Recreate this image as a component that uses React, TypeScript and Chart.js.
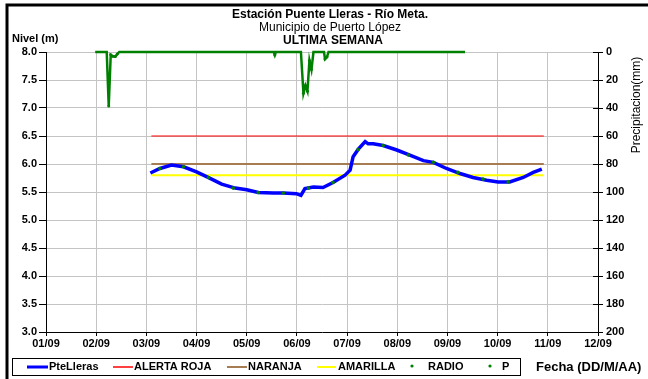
import React, { useEffect, useRef } from "react";
import { Chart, registerables } from "chart.js";

Chart.register(...registerables);

// ---------- DATA ----------
const xTickLabels = ["01/09", "02/09", "03/09", "04/09", "05/09", "06/09", "07/09", "08/09", "09/09", "10/09", "11/09", "12/09"];

// days since 01/09 00:00
const levelDays = [2.08, 2.27, 2.5, 2.74, 3.0, 3.23, 3.5, 3.77, 4.0, 4.23, 4.53, 4.73, 4.99, 5.08, 5.16, 5.33, 5.52, 5.72, 5.96, 6.06, 6.12, 6.22, 6.36, 6.42, 6.52, 6.72, 6.99, 7.25, 7.52, 7.72, 7.98, 8.25, 8.51, 8.78, 9.01, 9.24, 9.51, 9.71, 9.88];
const levelValues = [5.84, 5.92, 5.98, 5.95, 5.86, 5.76, 5.64, 5.57, 5.54, 5.49, 5.48, 5.48, 5.47, 5.44, 5.56, 5.59, 5.58, 5.67, 5.8, 5.89, 6.13, 6.26, 6.4, 6.36, 6.36, 6.33, 6.25, 6.16, 6.06, 6.03, 5.92, 5.83, 5.76, 5.71, 5.68, 5.68, 5.76, 5.85, 5.91];

const radioDays = [2.27, 2.74, 3.24, 3.73, 4.23, 4.73, 5.23, 5.72, 6.22, 6.72, 7.22, 7.72, 8.21, 8.71, 9.21];
const radioValues = [5.92, 5.95, 5.76, 5.57, 5.49, 5.48, 5.57, 5.67, 6.26, 6.33, 6.16, 6.03, 5.85, 5.73, 5.68];

const precipDays = [0.98, 1.21, 1.25, 1.29, 1.33, 1.38, 1.42, 1.46, 4.54, 4.56, 4.58, 5.08, 5.13, 5.17, 5.21, 5.25, 5.29, 5.33, 5.54, 5.56, 5.6, 5.63, 8.35];
const precipMm = [0, 0, 38.6, 2, 3, 3.3, 1.5, 0, 0, 2.2, 0, 0, 29.5, 24, 28, 6, 12.5, 0, 0, 5, 3.5, 0, 0];

const thresholdDays = [2.1, 9.92];
const alertaRoja = 6.5;
const naranja = 6.0;
const amarilla = 5.8;

const levelTicks = { min: 3, max: 8, step: 0.5 };
const precipTicks = { min: 0, max: 200, step: 20 };

const FONT = "'Liberation Sans', Arial, Helvetica, sans-serif";

const pts = (xs: number[], ys: number[]) => xs.map((x, i) => ({ x, y: ys[i] }));
const flat = (xs: number[], v: number) => xs.map((x) => ({ x, y: v }));

const chromePlugin = {
  id: "chrome",
  afterDraw(chart: any) {
    const ctx = chart.ctx as CanvasRenderingContext2D;
    const area = chart.chartArea;
    ctx.save();
    // outer frame
    ctx.strokeStyle = "#000";
    ctx.lineWidth = 3;
    ctx.beginPath();
    ctx.moveTo(7, 379);
    ctx.lineTo(7, 5);
    ctx.lineTo(648, 5);
    ctx.stroke();

    // inner ticks on right axis
    const y2 = chart.scales.y2;
    ctx.lineWidth = 1;
    ctx.beginPath();
    y2.ticks.forEach((t: any) => {
      const y = Math.round(y2.getPixelForValue(t.value)) + 0.5;
      ctx.moveTo(area.right - 5, y);
      ctx.lineTo(area.right, y);
    });
    ctx.stroke();

    // titles
    ctx.fillStyle = "#000";
    ctx.textAlign = "center";
    ctx.textBaseline = "middle";
    ctx.font = `bold 12px ${FONT}`;
    ctx.fillText("Estación Puente Lleras - Río Meta.", 330, 15);
    ctx.font = `12px ${FONT}`;
    ctx.fillText("Municipio de Puerto López", 330, 28);
    ctx.font = `bold 12px ${FONT}`;
    ctx.fillText("ULTIMA SEMANA", 333, 41);

    ctx.textAlign = "left";
    ctx.font = `bold 11px ${FONT}`;
    ctx.fillText("Nivel (m)", 12, 39);

    // right axis title
    ctx.save();
    ctx.translate(637, 105);
    ctx.rotate(-Math.PI / 2);
    ctx.textAlign = "center";
    ctx.font = `12px ${FONT}`;
    ctx.fillText("Precipitacion(mm)", 0, 0);
    ctx.restore();

    // x axis title
    ctx.textAlign = "left";
    ctx.font = `bold 13px ${FONT}`;
    ctx.fillText("Fecha (DD/M/AA)", 536, 367);

    // legend box
    ctx.strokeStyle = "#000";
    ctx.lineWidth = 1;
    ctx.strokeRect(12.5, 358.5, 508, 17);
    const ly = 367;
    const seg = (x1: number, x2: number, color: string, w: number) => {
      ctx.strokeStyle = color;
      ctx.lineWidth = w;
      ctx.beginPath();
      ctx.moveTo(x1, ly);
      ctx.lineTo(x2, ly);
      ctx.stroke();
    };
    const dot = (x: number) => {
      ctx.fillStyle = "#008000";
      ctx.beginPath();
      ctx.arc(x, ly - 1, 1.6, 0, Math.PI * 2);
      ctx.fill();
    };
    seg(27, 48, "#0000ff", 3);
    seg(113, 133, "#ff0000", 1.5);
    seg(227, 247, "#a67c52", 2);
    seg(317, 336, "#ffff00", 2);
    dot(412);
    dot(490);
    ctx.fillStyle = "#000";
    ctx.font = `bold 11px ${FONT}`;
    ctx.textBaseline = "middle";
    ctx.fillText("PteLleras", 49, ly);
    ctx.fillText("ALERTA ROJA", 134, ly);
    ctx.fillText("NARANJA", 248, ly);
    ctx.fillText("AMARILLA", 338, ly);
    ctx.fillText("RADIO", 428, ly);
    ctx.fillText("P", 502, ly);
    ctx.restore();
  },
};

export default function App() {
  const ref = useRef<HTMLCanvasElement | null>(null);

  useEffect(() => {
    document.body.style.margin = "0";
    const canvas = ref.current;
    if (!canvas) return;
    Chart.defaults.font.family = FONT;
    Chart.defaults.color = "#000";

    const chart = new Chart(canvas, {
      type: "line",
      data: {
        datasets: [
          {
            label: "RADIO",
            data: pts(radioDays, radioValues),
            yAxisID: "y",
            showLine: false,
            pointRadius: 1.8,
            pointBorderWidth: 0,
            pointBackgroundColor: "#008000",
            pointBorderColor: "#008000",
            borderColor: "#008000",
            backgroundColor: "#008000",
          },
          {
            label: "PteLleras",
            data: pts(levelDays, levelValues),
            yAxisID: "y",
            borderColor: "#0000ff",
            borderWidth: 3.5,
            pointRadius: 0,
            tension: 0,
          },
          {
            label: "ALERTA ROJA",
            data: flat(thresholdDays, alertaRoja),
            yAxisID: "y",
            borderColor: "#ff0000",
            borderWidth: 1.2,
            pointRadius: 0,
          },
          {
            label: "NARANJA",
            data: flat(thresholdDays, naranja),
            yAxisID: "y",
            borderColor: "#a67c52",
            borderWidth: 2,
            pointRadius: 0,
          },
          {
            label: "AMARILLA",
            data: flat(thresholdDays, amarilla),
            yAxisID: "y",
            borderColor: "#ffff00",
            borderWidth: 2,
            pointRadius: 0,
          },
          {
            label: "P",
            data: pts(precipDays, precipMm),
            yAxisID: "y2",
            borderColor: "#008000",
            backgroundColor: "#008000",
            borderWidth: 2.5,
            clip: false as any,
            pointRadius: (c: any) => (c.raw && c.raw.y > 0 ? 1.5 : 0),
            pointBorderWidth: 0,
            pointBackgroundColor: "#008000",
            pointBorderColor: "#008000",
            tension: 0,
          },
        ],
      },
      options: {
        responsive: false,
        animation: false,
        layout: { padding: { top: 52, left: 0, right: 0, bottom: 0 } },
        plugins: {
          legend: { display: false },
          title: { display: false },
          tooltip: { enabled: false },
        },
        scales: {
          x: {
            type: "linear",
            min: 0,
            max: 11,
            afterFit: (s: any) => {
              s.height = 47;
            },
            ticks: {
              stepSize: 1,
              autoSkip: false,
              maxRotation: 0,
              padding: 1,
              color: "#000",
              font: { size: 11, weight: "bold" },
              callback: (v: any) => xTickLabels[Math.round(Number(v))] ?? "",
            },
            grid: { color: "#c4c4c4", tickColor: "#000", tickLength: 4, lineWidth: 1 },
            border: { color: "#000", width: 1 },
          },
          y: {
            position: "left",
            min: levelTicks.min,
            max: levelTicks.max,
            afterFit: (s: any) => {
              s.width = 46;
            },
            ticks: {
              stepSize: levelTicks.step,
              padding: 2,
              color: "#000",
              font: { size: 11, weight: "bold" },
              callback: (v: any) => Number(v).toFixed(1),
            },
            grid: { color: "#c4c4c4", tickColor: "#000", tickLength: 7, lineWidth: 1 },
            border: { color: "#000", width: 1 },
          },
          y2: {
            position: "right",
            reverse: true,
            min: precipTicks.min,
            max: precipTicks.max,
            afterFit: (s: any) => {
              s.width = 50;
            },
            ticks: {
              stepSize: precipTicks.step,
              padding: 3,
              color: "#000",
              font: { size: 11, weight: "bold" },
            },
            grid: { drawOnChartArea: false, tickColor: "#000", tickLength: 5 },
            border: { color: "#000", width: 1 },
          },
        },
      } as any,
      plugins: [chromePlugin],
    });
    return () => chart.destroy();
  }, []);

  return <canvas ref={ref} width={648} height={379} style={{ display: "block" }} />;
}
